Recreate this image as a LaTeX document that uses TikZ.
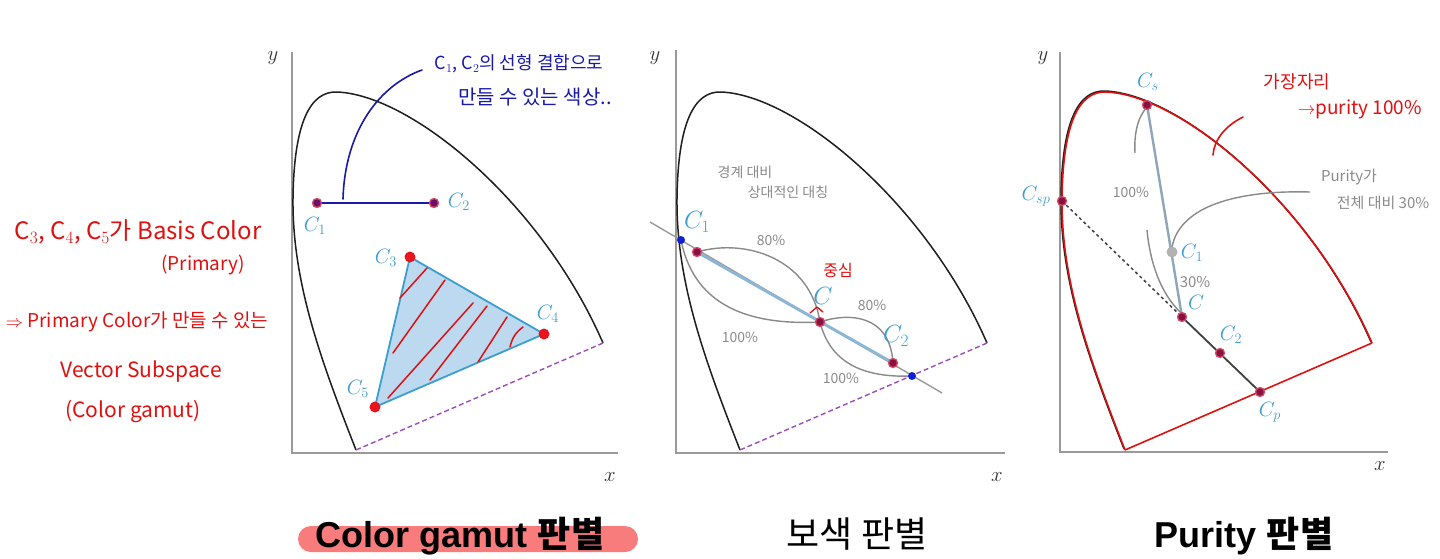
\documentclass[tikz,border=0pt]{standalone}
\usepackage{fontspec}
\setmainfont{Liberation Sans}
\newfontfamily\kr{Noto Sans CJK KR}
\usetikzlibrary{arrows.meta}
\definecolor{axisgray}{HTML}{9A9A9A}
\definecolor{hsblack}{HTML}{1E1E1E}
\definecolor{dashpurple}{HTML}{9B4DBA}
\definecolor{lblblue}{HTML}{3E9DD2}
\definecolor{ptfill}{HTML}{8A1040}
\definecolor{ptring}{HTML}{D24A6A}
\definecolor{dotred}{HTML}{E8141E}
\definecolor{dotblue}{HTML}{1020D0}
\definecolor{trifill}{HTML}{BCD9F0}
\definecolor{triedge}{HTML}{3A9FCF}
\definecolor{hatchred}{HTML}{DD1111}
\definecolor{handblue}{HTML}{1A1AA8}
\definecolor{handred}{HTML}{E01010}
\definecolor{handgray}{HTML}{8A8A8A}
\definecolor{steel}{HTML}{8CB6D6}
\definecolor{steelgray}{HTML}{8FA6BA}
\definecolor{hlred}{HTML}{F87C7C}
\tikzset{
  axis/.style={draw=axisgray, line width=1.6pt},
  hsline/.style={draw=hsblack, line width=1.5pt},
  gamutdash/.style={draw=dashpurple, dash pattern=on 5pt off 3pt, line width=1.4pt},
  lbl/.style={text=lblblue, font=\fontsize{22}{26}\selectfont, inner sep=0pt},
  axlbl/.style={text=black!80, font=\fontsize{20}{24}\selectfont, inner sep=0pt},
  pt/.style={circle, fill=ptfill, draw=ptring, line width=1.3pt, inner sep=0pt, minimum size=9pt},
  rdot/.style={circle, fill=dotred, inner sep=0pt, minimum size=11pt},
  bdot/.style={circle, fill=dotblue, inner sep=0pt, minimum size=8pt},
  gdot/.style={circle, fill=gray!60, inner sep=0pt, minimum size=11pt},
  hatch/.style={draw=hatchred, line width=1.5pt, line cap=round},
  handb/.style={text=handblue, font=\kr\fontsize{18}{22}\selectfont, inner sep=0pt},
  handr/.style={text=handred, font=\kr\fontsize{21}{25}\selectfont, inner sep=0pt},
  handg/.style={text=handgray, font=\kr\fontsize{14}{17}\selectfont, inner sep=0pt},
  graycurve/.style={draw=handgray, line width=1.4pt},
  title/.style={text=black, font=\fontsize{36}{40}\selectfont, inner sep=0pt, anchor=base},
  horseshoe/.pic={
    \coordinate (-b) at (64,-3);
    \coordinate (-r) at (311,-110);
    \path[pic actions] (64,-3) .. controls (30,-90) and (0,-170) .. (1,-255)
      .. controls (2,-330) and (18,-362) .. (45,-361)
      .. controls (120,-358) and (250,-250) .. (311,-110);
  }
}
\begin{document}
\begin{tikzpicture}[x=1pt,y=-1pt]
\useasboundingbox (0,0) rectangle (1440,558);
\fill[white] (0,0) rectangle (1440,558);

% ================= Panel 1 =================
\coordinate (o1) at (292,453);
\coordinate (ya1) at (292,52);
\coordinate (xa1) at (618,453);
\draw[axis] (ya1) -- (o1) -- (xa1);
\node[axlbl] (ylab1) at (273,58) {$y$};
\node[axlbl] (xlab1) at (610,477) {$x$};
\pic[hsline] (h1) at (o1) {horseshoe};
\draw[gamutdash] (h1-r) -- (h1-b);

% C1 C2 segment
\node[pt, fill=ptfill!80!blue] (p1c1) at (317,203) {};
\node[pt, fill=ptfill!80!blue] (p1c2) at (434,203) {};
\draw[draw=handblue, line width=2.2pt] (p1c1) -- (p1c2);
\node[lbl] (l1c1) at (315,226) {$C_1$};
\node[lbl] (l1c2) at (459,202) {$C_2$};

% blue annotation
\coordinate (bstart) at (343,199);
\coordinate (bend) at (422,70);
\draw[draw=handblue, line width=1.6pt, line cap=round] (bstart) .. controls (345,130) and (380,85) .. (bend);
\node[handb] (bt1) at (519,64) {C$_1$, C$_2$의 선형 결합으로};
\node[handb, font=\kr\fontsize{20}{24}\selectfont] (bt2) at (535,97) {만들 수 있는 색상..};

% triangle
\coordinate (c3) at (410,257);
\coordinate (c4) at (544,334);
\coordinate (c5) at (375,407);
\draw[fill=trifill, draw=triedge, line width=1.8pt, line join=round] (c3) -- (c4) -- (c5) -- cycle;
\draw[hatch] (400,298) -- (427,268);
\draw[hatch] (393,353) -- (445,280);
\draw[hatch] (388,398) -- (473,303);
\draw[hatch] (430,380) -- (487,306);
\draw[hatch] (478,362) -- (507,317);
\draw[hatch] (510,347) to[bend left=20] (523,327);
\node[rdot] (d3) at (c3) {};
\node[rdot] (d4) at (c4) {};
\node[rdot] (d5) at (c5) {};
\node[lbl] (l1c3) at (386,258) {$C_3$};
\node[lbl] (l1c4) at (548,314) {$C_4$};
\node[lbl] (l1c5) at (358,389) {$C_5$};

% left red notes
\node[handr, font=\kr\fontsize{24}{28}\selectfont] (r1) at (138,232) {C$_3$, C$_4$, C$_5$가 Basis Color};
\node[handr, font=\kr\fontsize{19}{23}\selectfont] (r2) at (203,265) {(Primary)};
\node[handr, font=\kr\fontsize{19}{23}\selectfont] (r3) at (137,322) {$\Rightarrow$ Primary Color가 만들 수 있는};
\node[handr] (r4) at (141,372) {Vector Subspace};
\node[handr] (r5) at (133,412) {(Color gamut)};

% ================= Panel 2 =================
\coordinate (o2) at (676,453);
\coordinate (ya2) at (676,50);
\coordinate (xa2) at (1005,453);
\draw[axis] (ya2) -- (o2) -- (xa2);
\node[axlbl] (ylab2) at (655,58) {$y$};
\node[axlbl] (xlab2) at (997,477) {$x$};
\pic[hsline] (h2) at (o2) {horseshoe};
\draw[gamutdash] (h2-r) -- (h2-b);

\coordinate (ls) at (650,222);
\coordinate (le) at (942,393);
\draw[draw=gray!80, line width=1.4pt] (ls) -- (le);
\coordinate (q1) at (697,252);
\coordinate (qc) at (820,322);
\coordinate (q2) at (893,363);
\coordinate (bd1) at (681,240);
\coordinate (bd2) at (912,376);
\draw[draw=steel, line width=3pt] (q1) -- (q2);
% lens curves
\draw[graycurve] (q1) .. controls (745,238) and (810,258) .. (qc);
\draw[graycurve] (bd1) .. controls (693,300) and (740,326) .. (qc);
\draw[graycurve] (qc) .. controls (850,312) and (890,315) .. (q2);
\draw[graycurve] (qc) .. controls (830,362) and (862,378) .. (bd2);
\node[pt] (p2c1) at (q1) {};
\node[pt] (p2c) at (qc) {};
\node[pt] (p2c2) at (q2) {};
\node[bdot] (p2b1) at (bd1) {};
\node[bdot] (p2b2) at (bd2) {};
\node[lbl, font=\fontsize{24}{28}\selectfont] (l2c1) at (697,222) {$C_1$};
\node[lbl, font=\fontsize{24}{28}\selectfont] (l2c) at (823,296) {$C$};
\node[lbl, font=\fontsize{24}{28}\selectfont] (l2c2) at (896,336) {$C_2$};
\draw[draw=handred, line width=1.3pt, line cap=round, line join=round] (810,313) -- (817,307) -- (823,312);
\node[handr, font=\kr\fontsize{16}{19}\selectfont] (center) at (838,270) {중심};
\node[handg] (g1) at (745,172) {경계 대비};
\node[handg] (g2) at (788,192) {상대적인 대칭};
\node[handg] (g3) at (771,240) {80\%};
\node[handg] (g4) at (740,337) {100\%};
\node[handg] (g5) at (872,305) {80\%};
\node[handg] (g6) at (841,378) {100\%};

% ================= Panel 3 =================
\coordinate (o3) at (1060,452);
\coordinate (ya3) at (1060,52);
\coordinate (xa3) at (1388,452);
\draw[axis] (ya3) -- (o3) -- (xa3);
\node[axlbl] (ylab3) at (1043,58) {$y$};
\node[axlbl] (xlab3) at (1380,466) {$x$};
\pic[hsline] (h3) at (o3) {horseshoe};
\pic[draw=handred, line width=1.6pt, line join=round] (h3r) at (1061,453) {horseshoe};
\draw[draw=handred, line width=1.6pt] (h3r-r) -- (h3r-b);

\coordinate (csp) at (1062,201);
\coordinate (cs) at (1147,105);
\coordinate (cc) at (1182,317);
\coordinate (cc2) at (1220,353);
\coordinate (cp) at (1260,392);
\coordinate (cc1) at (1172,252);
\draw[draw=black!75, line width=1.5pt, dashed] (csp) -- (cc);
\draw[draw=black!75, line width=1.8pt] (cc) -- (cp);
\draw[draw=steelgray, line width=2.4pt] (cs) -- (cc);
% gray annotation curves
\draw[graycurve] (1147,107) .. controls (1137,118) and (1134,135) .. (1135,153);
\draw[graycurve] (1147,230) .. controls (1150,262) and (1160,292) .. (1180,312);
\coordinate (arrend) at (1310,192);
\draw[graycurve] (1172,247) .. controls (1180,205) and (1240,190) .. (arrend);
% red annotation curve
\draw[draw=handred, line width=1.6pt, line cap=round] (1243,117) .. controls (1225,126) and (1214,140) .. (1213,155);

\node[pt] (p3csp) at (csp) {};
\node[pt] (p3cs) at (cs) {};
\node[pt] (p3c) at (cc) {};
\node[pt] (p3c2) at (cc2) {};
\node[pt] (p3cp) at (cp) {};
\node[gdot] (p3c1) at (cc1) {};
\node[lbl] (l3cs) at (1148,82) {$C_s$};
\node[lbl] (l3csp) at (1036,196) {$C_{sp}$};
\node[lbl] (l3c1) at (1192,253) {$C_1$};
\node[lbl] (l3c) at (1196,302) {$C$};
\node[lbl] (l3c2) at (1231,335) {$C_2$};
\node[lbl] (l3cp) at (1270,412) {$C_p$};
\node[handg, font=\kr\fontsize{15}{18}\selectfont] (g7) at (1195,282) {30\%};
\node[handg] (g8) at (1131,192) {100\%};
\node[handg, font=\kr\fontsize{15}{18}\selectfont] (g9) at (1349,177) {Purity가};
\node[handg, font=\kr\fontsize{15}{18}\selectfont] (g10) at (1383,203) {전체 대비 30\%};
\node[handr, font=\kr\fontsize{18}{22}\selectfont] (r6) at (1297,82) {가장자리};
\node[handr, font=\kr\fontsize{19}{23}\selectfont] (r7) at (1360,109) {$\rightarrow$purity 100\%};

% ================= Titles =================
\fill[hlred, rounded corners=13pt] (298,526) rectangle (638,552);
\node[title] (t1) at (460,547) {\bfseries Color gamut {\kr 판별}};
\node[title] (t2) at (857,547) {\kr 보색 판별};
\node[title] (t3) at (1244,547) {\bfseries Purity {\kr 판별}};
\end{tikzpicture}
\end{document}
